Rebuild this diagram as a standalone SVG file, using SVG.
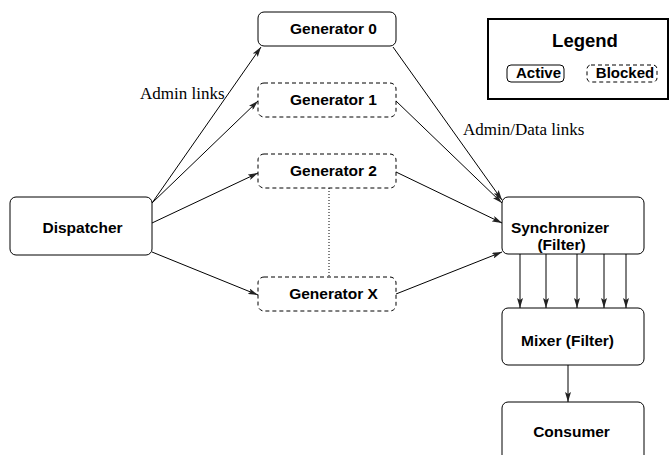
<svg xmlns="http://www.w3.org/2000/svg" width="671" height="455" viewBox="0 0 671 455">
  <defs>
    <marker id="arrow" viewBox="0 0 10 6" refX="10" refY="3" markerWidth="10" markerHeight="6" markerUnits="userSpaceOnUse" orient="auto">
      <path d="M0,0 L10,3 L0,6 L2,3 Z" fill="#222"/>
    </marker>
  </defs>
  <style>
    .node { fill: #fff; stroke: #000; stroke-width: 1; }
    .blocked { stroke-dasharray: 4 3; }
    .label { font-family: "Liberation Sans", Arial, sans-serif; font-weight: bold; font-size: 15.5px; fill: #000; text-anchor: middle; }
    .note { font-family: "Liberation Serif", "Times New Roman", serif; font-size: 17px; fill: #000; }
    .link { stroke: #000; stroke-width: 1; fill: none; marker-end: url(#arrow); }
  </style>

  <rect width="671" height="455" fill="#fff"/>

  <!-- Legend -->
  <g id="legend">
    <rect x="488" y="19" width="180" height="80" fill="#fff" stroke="#000" stroke-width="2"/>
    <text x="585" y="47" class="label" style="font-size:18.5px">Legend</text>
    <rect x="507" y="65" width="57" height="17" rx="4" class="node"/>
    <text x="538.5" y="78" class="label" style="font-size:15px">Active</text>
    <rect x="587" y="65" width="70" height="17" rx="4" class="node blocked"/>
    <text x="625" y="78" class="label" style="font-size:15px">Blocked</text>
  </g>

  <!-- Connectors -->
  <g id="connectors">
    <line x1="152" y1="203" x2="261" y2="47" class="link"/>
    <line x1="152" y1="203" x2="258" y2="101" class="link"/>
    <line x1="152" y1="223" x2="258" y2="173" class="link"/>
    <line x1="152" y1="252" x2="258" y2="295" class="link"/>
    <line x1="393" y1="47" x2="502" y2="200" class="link"/>
    <line x1="396" y1="101" x2="502" y2="203" class="link"/>
    <line x1="396" y1="172" x2="502" y2="223" class="link"/>
    <line x1="396" y1="294" x2="502" y2="252" class="link"/>
    <line x1="329" y1="188" x2="329" y2="277" stroke="#000" stroke-width="1" stroke-dasharray="1 2"/>
    <line x1="520" y1="254" x2="520" y2="308" class="link"/>
    <line x1="546" y1="254" x2="546" y2="308" class="link"/>
    <line x1="577" y1="254" x2="577" y2="308" class="link"/>
    <line x1="604" y1="254" x2="604" y2="308" class="link"/>
    <line x1="626" y1="254" x2="626" y2="308" class="link"/>
    <line x1="568" y1="365" x2="568" y2="402" class="link"/>
  </g>

  <text x="140" y="99" class="note">Admin links</text>
  <text x="463" y="135" class="note">Admin/Data links</text>

  <!-- Nodes -->
  <g id="dispatcher">
    <rect x="10" y="197" width="142" height="58" rx="6" class="node"/>
    <text x="82.5" y="233" class="label">Dispatcher</text>
  </g>
  <g id="generator0">
    <rect x="258" y="12" width="138" height="34" rx="6" class="node"/>
    <text x="333.5" y="34" class="label">Generator 0</text>
  </g>
  <g id="generator1">
    <rect x="258" y="83" width="138" height="34" rx="6" class="node blocked"/>
    <text x="333.5" y="105" class="label">Generator 1</text>
  </g>
  <g id="generator2">
    <rect x="258" y="154" width="138" height="34" rx="6" class="node blocked"/>
    <text x="333.5" y="176" class="label">Generator 2</text>
  </g>
  <g id="generatorX">
    <rect x="258" y="277" width="138" height="34" rx="6" class="node blocked"/>
    <text x="333.5" y="299" class="label">Generator X</text>
  </g>
  <g id="synchronizer">
    <rect x="502" y="197" width="142" height="57" rx="6" class="node"/>
    <text x="560" y="233" class="label">Synchronizer</text>
    <text x="561.5" y="250" class="label">(Filter)</text>
  </g>
  <g id="mixer">
    <rect x="502" y="308" width="142" height="57" rx="6" class="node"/>
    <text x="567.5" y="346" class="label">Mixer (Filter)</text>
  </g>
  <g id="consumer">
    <rect x="502" y="402" width="142" height="60" rx="6" class="node"/>
    <text x="571.5" y="437" class="label">Consumer</text>
  </g>
</svg>
